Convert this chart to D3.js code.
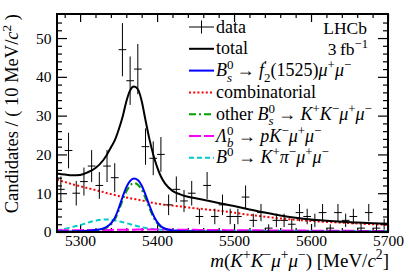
<!DOCTYPE html>
<html lang="en">
<head>
<meta charset="utf-8">
<title>Bs -> KK mu mu mass fit</title>
<script src="https://cdn.jsdelivr.net/npm/d3@7"></script>
<style>
  body { margin: 0; background: #fff; }
  svg text { font-family: "Liberation Serif", "Times New Roman", serif; fill: #000; }
</style>
</head>
<body>
<script>
// ---- data ----
var binCenters = [5275, 5285, 5295, 5305, 5315, 5325, 5335, 5345, 5355, 5365,
  5375, 5385, 5395, 5405, 5415, 5425, 5435, 5445, 5455, 5465,
  5475, 5485, 5495, 5505, 5515, 5525, 5535, 5545, 5555, 5565,
  5575, 5585, 5595, 5605, 5615, 5625, 5635, 5645, 5655, 5665,
  5675, 5685, 5695];
var counts = [11, 21, 10, 13, 17, 12, 17, 14, 47, 39,
  42, 22, 19, 20, 7, 11, 8, 10, 4, 12,
  4, 7, 4, 4, 9, 3, 5, 1, 3, 3,
  2, 5, 4, 3, 5, 1, 5, 3, 4, 1,
  5, 1, 2];

// mass points where the fit curves were read
var curveMass = [5270, 5280, 5290, 5300, 5310, 5320, 5330, 5335, 5340, 5345,
  5350, 5355, 5360, 5365, 5370, 5375, 5380, 5385, 5390, 5395,
  5400, 5405, 5410, 5420, 5430, 5440, 5450, 5460, 5480, 5500,
  5520, 5540, 5560, 5580, 5600, 5620, 5640, 5660, 5680, 5700];
var totalFit = [15.1, 14.8, 14.6, 14.7, 15.4, 16.5, 18.5, 20.0, 21.8, 23.6,
  26.3, 29.5, 33.6, 36.5, 37.5, 36.8, 33.8, 28.8, 24.0, 20.0,
  16.8, 14.3, 12.6, 10.6, 9.7, 9.1, 8.7, 8.3, 7.5, 6.7,
  5.8, 5.0, 4.25, 3.65, 3.2, 2.9, 2.65, 2.45, 2.25, 2.1];
var f2Signal = [0.1, 0.1, 0.15, 0.2, 0.3, 0.5, 0.9, 1.4, 2.2, 3.6,
  6.0, 8.9, 11.5, 13.2, 13.8, 13.4, 12.0, 9.6, 6.9, 4.4,
  2.6, 1.5, 0.9, 0.4, 0.25, 0.2, 0.15, 0.12, 0.1, 0.09,
  0.08, 0.07, 0.07, 0.06, 0.06, 0.06, 0.05, 0.05, 0.05, 0.05];
var combinatorial = [13.5, 12.9, 12.3, 11.8, 11.3, 10.8, 10.3, 10.0, 9.8, 9.55,
  9.3, 9.1, 8.9, 8.7, 8.5, 8.35, 8.15, 7.95, 7.7, 7.5,
  7.3, 7.15, 7.0, 6.8, 6.6, 6.35, 6.1, 5.9, 5.5, 5.0,
  4.4, 3.95, 3.5, 3.15, 2.85, 2.6, 2.4, 2.2, 2.0, 1.85];
var otherBs = [0.1, 0.1, 0.12, 0.18, 0.25, 0.4, 0.75, 1.2, 1.9, 3.2,
  5.4, 8.0, 10.4, 12.0, 12.6, 12.2, 10.9, 8.7, 6.2, 3.9,
  2.3, 1.3, 0.8, 0.35, 0.2, 0.15, 0.12, 0.1, 0.08, 0.07,
  0.06, 0.06, 0.05, 0.05, 0.05, 0.04, 0.04, 0.04, 0.04, 0.04];
var lambdaB = [0.45, 0.46, 0.47, 0.48, 0.5, 0.51, 0.52, 0.53, 0.54, 0.55,
  0.56, 0.57, 0.58, 0.6, 0.61, 0.62, 0.63, 0.64, 0.65, 0.65,
  0.65, 0.64, 0.63, 0.61, 0.59, 0.57, 0.55, 0.53, 0.5, 0.46,
  0.43, 0.41, 0.39, 0.37, 0.35, 0.33, 0.31, 0.29, 0.27, 0.25];
var b0Kpi = [0.4, 0.8, 1.3, 1.8, 2.4, 2.9, 3.2, 3.25, 3.2, 3.0,
  2.8, 2.55, 2.3, 2.0, 1.75, 1.5, 1.25, 1.05, 0.9, 0.75,
  0.65, 0.58, 0.52, 0.45, 0.42, 0.4, 0.38, 0.36, 0.34, 0.32,
  0.3, 0.29, 0.28, 0.27, 0.26, 0.25, 0.24, 0.23, 0.22, 0.21];

var xMajor = [5300, 5400, 5500, 5600, 5700];
var yMajor = [0, 10, 20, 30, 40, 50];

// ---- layout ----
var W = 409, H = 277;
var margin = {top: 14, right: 21, bottom: 45, left: 57};
var width = W - margin.left - margin.right;
var height = H - margin.top - margin.bottom;

var svg = d3.select("body").append("svg")
  .attr("width", W)
  .attr("height", H);

var g = svg.append("g")
  .attr("transform", "translate(" + margin.left + "," + margin.top + ")");

var x = d3.scaleLinear().domain([5270, 5700]).range([0, width]);
var y = d3.scaleLinear().domain([0, 56.2]).range([height, 0]);

var xMinor = d3.range(5280, 5700, 20).filter(function(d) { return xMajor.indexOf(d) < 0; });
var yMinor = d3.range(2, 56, 2).filter(function(d) { return yMajor.indexOf(d) < 0; });

// axes, ticks point inward on all four sides
function styleAxis(sel) {
  sel.select(".domain").remove();
  sel.selectAll("line").attr("stroke", "#000").attr("stroke-width", 1.2);
  sel.selectAll("text").style("font-size", "15.5px").attr("fill", "#000");
}

g.append("g").attr("transform", "translate(0," + height + ")")
  .call(d3.axisBottom(x).tickValues(xMajor).tickSize(-8).tickPadding(3).tickFormat(d3.format("d")))
  .call(styleAxis);
g.append("g").attr("transform", "translate(0," + height + ")")
  .call(d3.axisBottom(x).tickValues(xMinor).tickSize(-4).tickFormat(""))
  .call(styleAxis);
g.append("g")
  .call(d3.axisTop(x).tickValues(xMajor).tickSize(-8).tickFormat(""))
  .call(styleAxis);
g.append("g")
  .call(d3.axisTop(x).tickValues(xMinor).tickSize(-4).tickFormat(""))
  .call(styleAxis);

g.append("g")
  .call(d3.axisLeft(y).tickValues(yMajor).tickSize(-10).tickPadding(5.5))
  .call(styleAxis);
g.append("g")
  .call(d3.axisLeft(y).tickValues(yMinor).tickSize(-5).tickFormat(""))
  .call(styleAxis);
g.append("g").attr("transform", "translate(" + width + ",0)")
  .call(d3.axisRight(y).tickValues(yMajor).tickSize(-10).tickFormat(""))
  .call(styleAxis);
g.append("g").attr("transform", "translate(" + width + ",0)")
  .call(d3.axisRight(y).tickValues(yMinor).tickSize(-5).tickFormat(""))
  .call(styleAxis);

// ---- fit curves ----
var line = d3.line()
  .x(function(d) { return x(d[0]); })
  .y(function(d) { return y(d[1]); })
  .curve(d3.curveMonotoneX);

var components = [
  {name: "comb",  vals: combinatorial, color: "#ff0000", dash: "2,2.2",     w: 2},
  {name: "b0",    vals: b0Kpi,         color: "#00cccc", dash: "5,3",       w: 2},
  {name: "lb",    vals: lambdaB,       color: "#ff00ff", dash: "12,3",      w: 2},
  {name: "other", vals: otherBs,       color: "#00a000", dash: "7,3,2,3",   w: 2},
  {name: "f2",    vals: f2Signal,      color: "#0000ff", dash: null,        w: 2},
  {name: "total", vals: totalFit,      color: "#000000", dash: null,        w: 2}
];

svg.append("clipPath").attr("id", "plotclip")
  .append("rect").attr("width", width).attr("height", height);

g.append("g").attr("clip-path", "url(#plotclip)")
  .selectAll("path")
  .data(components)
  .enter()
  .append("path")
  .attr("d", function(c) { return line(curveMass.map(function(m, i) { return [m, c.vals[i]]; })); })
  .attr("fill", "none")
  .attr("stroke", function(c) { return c.color; })
  .attr("stroke-width", function(c) { return c.w; })
  .attr("stroke-dasharray", function(c) { return c.dash; });

// ---- data points with sqrt(N) errors ----
var pts = g.append("g").attr("stroke", "#000").attr("stroke-width", 1);
binCenters.forEach(function(m, i) {
  var n = counts[i], e = Math.sqrt(n);
  pts.append("line")
    .attr("x1", x(m - 5)).attr("x2", x(m + 5))
    .attr("y1", y(n)).attr("y2", y(n));
  pts.append("line")
    .attr("x1", x(m)).attr("x2", x(m))
    .attr("y1", y(n + e)).attr("y2", y(Math.max(0, n - e)));
});

// frame
g.append("rect")
  .attr("width", width).attr("height", height)
  .attr("fill", "none").attr("stroke", "#000").attr("stroke-width", 2);

// ---- rich text helper: parts are [text, kind, extra] ----
function rich(textSel, parts, size) {
  var up = size * 0.38, down = size * 0.3, shift = 0, small = size * 0.72;
  parts.forEach(function(p) {
    var t = p[0], kind = p[1] || "";
    if (kind === "sup" || kind === "sub") {
      var d = kind === "sup" ? -up : down;
      textSel.append("tspan").attr("dy", d - shift)
        .style("font-size", small + "px").text(t);
      shift = d;
    } else if (kind === "supsub" || kind === "isupsub") {
      var s1 = textSel.append("tspan").attr("dy", -up - shift)
        .style("font-size", small + "px").text(t);
      var wSup = s1.node().getComputedTextLength();
      var s2 = textSel.append("tspan").attr("dy", up + down).attr("dx", -wSup)
        .style("font-size", small + "px").text(p[2]);
      if (kind === "isupsub") s2.style("font-style", "italic");
      shift = down;
    } else {
      var ts = textSel.append("tspan").text(t);
      if (shift !== 0) ts.attr("dy", -shift);
      shift = 0;
      if (kind === "i") ts.style("font-style", "italic");
    }
  });
}

// axis titles
var yTitle = svg.append("text")
  .attr("transform", "translate(18," + margin.top + ") rotate(-90)")
  .attr("text-anchor", "end")
  .style("font-size", "18.5px");
rich(yTitle, [["Candidates / ( 10 MeV/"], ["c", "i"], ["2", "sup"], [" )"]], 18.5);

var xTitle = svg.append("text")
  .attr("x", margin.left + width + 1).attr("y", 266.5)
  .attr("text-anchor", "end")
  .style("font-size", "19px");
rich(xTitle, [["m", "i"], ["("], ["K", "i"], ["+", "sup"], ["K", "i"], ["\u2212", "sup"],
  ["\u03bc", "i"], ["+", "sup"], ["\u03bc", "i"], ["\u2212", "sup"], [") [MeV/"], ["c", "i"], ["2", "sup"], ["]"]], 19);

// LHCb label
svg.append("text").attr("x", 367).attr("y", 34).attr("text-anchor", "end")
  .style("font-size", "17.5px").text("LHCb");
var lumi = svg.append("text").attr("x", 368).attr("y", 55).attr("text-anchor", "end")
  .style("font-size", "17.5px");
rich(lumi, [["3\u2009fb"], ["\u22121", "sup"]], 17.5);

// ---- legend ----
var legendY0 = 27, legendStep = 21.8, lx1 = 189, lx2 = 214, tx = 216, fs = 18;
var legendItems = [
  {kind: "data", parts: [["data"]]},
  {kind: "line", comp: "total", parts: [["total"]]},
  {kind: "line", comp: "f2", parts: [["B", "i"], ["0", "isupsub", "s"], [" \u2192 "], ["f", "i"], ["\u2032", "supsub", "2"],
    ["(1525)"], ["\u03bc", "i"], ["+", "sup"], ["\u03bc", "i"], ["\u2212", "sup"]]},
  {kind: "line", comp: "comb", parts: [["combinatorial"]]},
  {kind: "line", comp: "other", parts: [["other "], ["B", "i"], ["0", "isupsub", "s"], [" \u2192 "], ["K", "i"], ["+", "sup"],
    ["K", "i"], ["\u2212", "sup"], ["\u03bc", "i"], ["+", "sup"], ["\u03bc", "i"], ["\u2212", "sup"]]},
  {kind: "line", comp: "lb", parts: [["\u039b", "i"], ["0", "isupsub", "b"], [" \u2192 "], ["p", "i"], ["K", "i"], ["\u2212", "sup"],
    ["\u03bc", "i"], ["+", "sup"], ["\u03bc", "i"], ["\u2212", "sup"]]},
  {kind: "line", comp: "b0", parts: [["B", "i"], ["0", "sup"], [" \u2192 "], ["K", "i"], ["+", "sup"], ["\u03c0", "i"], ["\u2212", "sup"],
    ["\u03bc", "i"], ["+", "sup"], ["\u03bc", "i"], ["\u2212", "sup"]]}
];

var legend = svg.append("g");
legendItems.forEach(function(item, i) {
  var cy = legendY0 + i * legendStep;
  if (item.kind === "data") {
    legend.append("line").attr("x1", lx1).attr("x2", lx2).attr("y1", cy).attr("y2", cy)
      .attr("stroke", "#000").attr("stroke-width", 1);
    legend.append("line").attr("x1", (lx1 + lx2) / 2).attr("x2", (lx1 + lx2) / 2)
      .attr("y1", cy - 6.5).attr("y2", cy + 6.5).attr("stroke", "#000").attr("stroke-width", 1);
  } else {
    var c = components.filter(function(d) { return d.name === item.comp; })[0];
    legend.append("line").attr("x1", lx1).attr("x2", lx2).attr("y1", cy).attr("y2", cy)
      .attr("stroke", c.color).attr("stroke-width", c.w).attr("stroke-dasharray", c.dash);
  }
  var t = legend.append("text").attr("x", tx).attr("y", cy + 5.5).style("font-size", fs + "px");
  rich(t, item.parts, fs);
});
</script>
</body>
</html>
